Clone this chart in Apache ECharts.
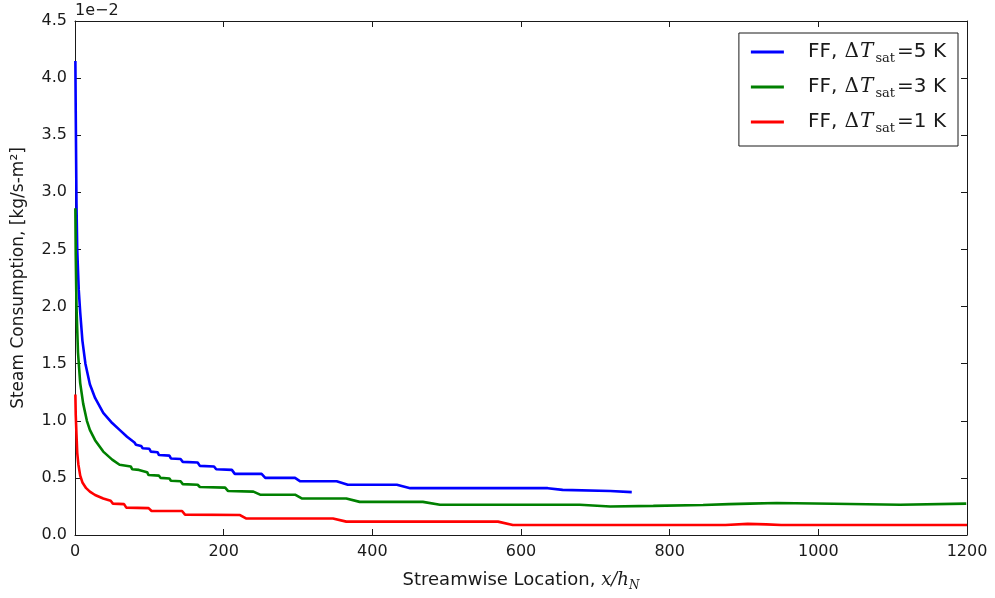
<!DOCTYPE html>
<html>
<head>
<meta charset="utf-8">
<script src="https://cdn.jsdelivr.net/npm/echarts@6/dist/echarts.min.js"></script>
<style>
  html, body { margin: 0; padding: 0; background: #fff; }
  #chart { width: 995px; height: 598px; }
</style>
</head>
<body>
<div id="chart"></div>
<script>
// values are in units of 1e-2 kg/s-m^2
const seriesNames = ["FF, ΔT_sat=5 K", "FF, ΔT_sat=3 K", "FF, ΔT_sat=1 K"];
const seriesColors = ["#0000ff", "#008000", "#ff0000"];

const blueX = [0.5, 1, 2, 3, 5, 7, 10, 14, 20, 27, 38, 50, 60, 70, 80, 82, 89, 91, 100, 102, 111, 113, 127, 129, 142, 145, 165, 168, 187, 190, 211, 215, 251, 256, 296, 303, 352, 367, 433, 451, 636, 656, 720, 749];
const blueY = [4.15, 3.7, 2.9, 2.5, 2.15, 1.95, 1.7, 1.5, 1.32, 1.2, 1.07, 0.98, 0.92, 0.86, 0.81, 0.79, 0.78, 0.76, 0.755, 0.73, 0.725, 0.70, 0.695, 0.67, 0.665, 0.64, 0.635, 0.605, 0.60, 0.575, 0.57, 0.535, 0.535, 0.50, 0.50, 0.47, 0.47, 0.44, 0.44, 0.41, 0.41, 0.395, 0.385, 0.375];

const greenX = [0.5, 1, 2, 4, 7, 11, 16, 20, 27, 38, 50, 60, 75, 77, 86, 88, 97, 99, 113, 115, 127, 129, 142, 145, 165, 168, 202, 206, 240, 249, 296, 305, 365, 383, 468, 491, 679, 720, 778, 845, 880, 908, 944, 1020, 1110, 1199];
const greenY = [2.86, 2.45, 2.0, 1.6, 1.33, 1.15, 1.0, 0.92, 0.83, 0.73, 0.66, 0.615, 0.60, 0.575, 0.57, 0.555, 0.55, 0.525, 0.52, 0.50, 0.495, 0.475, 0.47, 0.445, 0.44, 0.42, 0.415, 0.385, 0.38, 0.353, 0.353, 0.32, 0.32, 0.29, 0.29, 0.265, 0.265, 0.25, 0.255, 0.262, 0.27, 0.275, 0.28, 0.273, 0.265, 0.275];

const redX = [0.5, 1, 2, 3, 4.5, 7, 10, 15, 20, 27, 38, 48, 51, 66, 69, 99, 103, 144, 148, 222, 230, 347, 365, 569, 589, 875, 905, 930, 950, 1200];
const redY = [1.23, 1.05, 0.88, 0.72, 0.62, 0.52, 0.46, 0.41, 0.38, 0.35, 0.32, 0.30, 0.275, 0.27, 0.24, 0.235, 0.21, 0.21, 0.178, 0.175, 0.145, 0.145, 0.117, 0.117, 0.088, 0.088, 0.097, 0.093, 0.088, 0.088];

const xTicks = {min: 0, max: 1200, interval: 200};
const yTicks = {min: 0, max: 4.5, interval: 0.5};

function pairs(xs, ys) {
  return xs.map((x, i) => [x, ys[i]]);
}

const font = "DejaVu Sans";
const ink = "#1a1a1a";
const chart = echarts.init(document.getElementById("chart"));

function frameAxis(extra) {
  return Object.assign({
    type: "value",
    axisLine: {show: true, onZero: false, lineStyle: {color: ink, width: 1}},
    axisTick: {show: true, inside: true, length: 6, lineStyle: {color: ink}},
    splitLine: {show: false},
  }, extra);
}

const option = {
  animation: false,
  backgroundColor: "#fff",
  textStyle: {fontFamily: font},
  grid: {left: 75, right: 28, top: 21, bottom: 63},
  graphic: [{
    type: "text",
    left: 75,
    top: 3,
    style: {text: "1e\u22122", font: "16px DejaVu Sans", fill: ink},
  }],
  legend: {
    orient: "vertical",
    right: 37,
    top: 33,
    padding: [9, 12, 11, 12],
    itemGap: 12,
    itemWidth: 33,
    itemHeight: 3,
    icon: "rect",
    borderColor: ink,
    borderWidth: 1,
    borderRadius: 0,
    backgroundColor: "#fff",
    data: seriesNames,
    formatter: function(name) {
      const k = name.match(/=(\d)/)[1];
      return "{a|FF, }{d|Δ}{t|T}{s|sat}{a|=" + k + " K}";
    },
    textStyle: {
      fontFamily: font,
      fontSize: 20,
      color: ink,
      padding: [0, 0, 0, 19],
      rich: {
        a: {fontFamily: font, fontSize: 20, color: ink, lineHeight: 26},
        d: {fontFamily: "DejaVu Serif", fontSize: 20, color: ink, lineHeight: 26, padding: [0, 1, 0, 1]},
        t: {fontFamily: "DejaVu Serif", fontStyle: "italic", fontSize: 20, color: ink, lineHeight: 26, padding: [0, 1, 0, 0]},
        s: {fontFamily: "DejaVu Serif", fontSize: 13, color: ink, lineHeight: 26, verticalAlign: "bottom", padding: [8, 2, 0, 1]},
      },
    },
  },
  xAxis: [
    frameAxis({
      position: "bottom",
      min: xTicks.min, max: xTicks.max, interval: xTicks.interval,
      axisLabel: {color: ink, fontSize: 16, fontFamily: font, margin: 9, formatter: v => String(v)},
      name: "{a|Streamwise Location, }{i|x/h}{s|N}",
      nameLocation: "middle",
      nameGap: 33,
      nameTextStyle: {
        rich: {
          a: {fontFamily: font, fontSize: 18, color: ink, lineHeight: 24},
          i: {fontFamily: "DejaVu Serif", fontStyle: "italic", fontSize: 18, color: ink, lineHeight: 24},
          s: {fontFamily: "DejaVu Serif", fontStyle: "italic", fontSize: 12, color: ink, lineHeight: 24, verticalAlign: "bottom", padding: [7, 0, 0, 0]},
        },
      },
    }),
    frameAxis({
      position: "top",
      min: xTicks.min, max: xTicks.max, interval: xTicks.interval,
      axisLabel: {show: false},
    }),
  ],
  yAxis: [
    frameAxis({
      position: "left",
      min: yTicks.min, max: yTicks.max, interval: yTicks.interval,
      axisLabel: {
        color: ink, fontSize: 16, fontFamily: font, margin: 8,
        formatter: v => v.toFixed(1),
      },
      name: "Steam Consumption, [kg/s-m²]",
      nameLocation: "middle",
      nameGap: 48,
      nameTextStyle: {fontFamily: font, fontSize: 17, color: ink},
    }),
    frameAxis({
      position: "right",
      min: yTicks.min, max: yTicks.max, interval: yTicks.interval,
      axisLabel: {show: false},
    }),
  ],
  series: [
    {name: seriesNames[0], type: "line", data: pairs(blueX, blueY)},
    {name: seriesNames[1], type: "line", data: pairs(greenX, greenY)},
    {name: seriesNames[2], type: "line", data: pairs(redX, redY)},
  ].map((s, i) => Object.assign(s, {
    symbol: "none",
    smooth: false,
    color: seriesColors[i],
    lineStyle: {color: seriesColors[i], width: 2.6},
  })),
};

chart.setOption(option);
</script>
</body>
</html>
